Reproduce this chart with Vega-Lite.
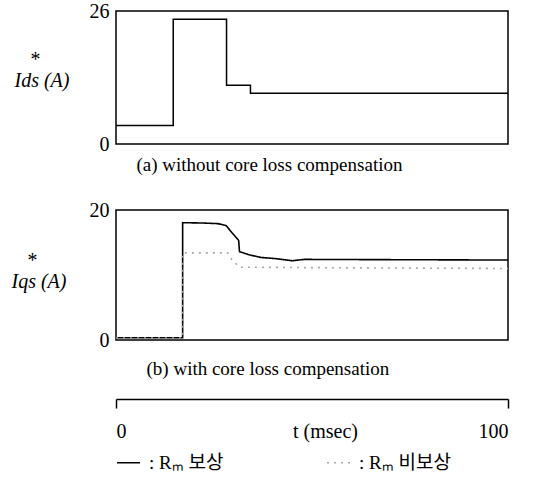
{
  "$schema": "https://vega.github.io/schema/vega-lite/v6.json",
  "background": "white",
  "padding": {"left": 10, "top": 0, "right": 5, "bottom": 5},
  "spacing": 16,
  "config": {
    "font": "Liberation Serif, serif",
    "view": {"stroke": "black", "strokeWidth": 1.5},
    "axis": {
      "labelFont": "Liberation Serif, serif",
      "titleFont": "Liberation Serif, serif",
      "labelColor": "black",
      "titleColor": "black",
      "grid": false,
      "domain": false,
      "ticks": false,
      "labelFontSize": 20,
      "titleFontWeight": "normal"
    }
  },
  "resolve": {"scale": {"x": "independent", "y": "independent", "color": "independent", "strokeDash": "independent"}},
  "vconcat": [
    {
      "spacing": 24,
      "resolve": {"scale": {"x": "independent", "y": "independent", "color": "independent", "strokeDash": "independent"}},
      "vconcat": [
        {
          "width": 392,
          "height": 133,
          "data": {"values": [
            {"i": 0, "t": 0, "v": 3.6},
            {"i": 1, "t": 14.6, "v": 3.6},
            {"i": 2, "t": 14.6, "v": 24.4},
            {"i": 3, "t": 28.2, "v": 24.4},
            {"i": 4, "t": 28.2, "v": 11.5},
            {"i": 5, "t": 34.3, "v": 11.5},
            {"i": 6, "t": 34.3, "v": 9.9},
            {"i": 7, "t": 100, "v": 9.9}
          ]},
          "mark": {"type": "line", "color": "black", "strokeWidth": 1.5},
          "encoding": {
            "x": {"field": "t", "type": "quantitative", "scale": {"domain": [0, 100], "nice": false},
              "axis": {"labels": false, "title": "(a) without core loss compensation", "titleFontSize": 19,
                "titleX": 20, "titleY": 20, "titleAlign": "left", "titleBaseline": "middle"}},
            "y": {"field": "v", "type": "quantitative", "scale": {"domain": [0, 26], "nice": false},
              "axis": {"values": [0, 26], "labelPadding": 7, "title": ["\u2800*", "Ids (A)"], "titleAngle": 0,
                "titleFontStyle": "italic", "titleFontSize": 20, "titleAlign": "left", "titleBaseline": "middle",
                "titleX": -102, "titleY": 48, "titleLineHeight": 21}},
            "order": {"field": "i", "type": "quantitative"}
          }
        },
        {
          "width": 392,
          "height": 130,
          "data": {"values": [
            {"s": "Rₘ 보상", "i": 0, "t": 0, "v": 0.35},
            {"s": "Rₘ 보상", "i": 1, "t": 17.0, "v": 0.35},
            {"s": "Rₘ 보상", "i": 2, "t": 17.0, "v": 18.05},
            {"s": "Rₘ 보상", "i": 3, "t": 22, "v": 18.0},
            {"s": "Rₘ 보상", "i": 4, "t": 26, "v": 17.9},
            {"s": "Rₘ 보상", "i": 5, "t": 28.1, "v": 17.6},
            {"s": "Rₘ 보상", "i": 6, "t": 29.6, "v": 16.5},
            {"s": "Rₘ 보상", "i": 7, "t": 30.9, "v": 15.6},
            {"s": "Rₘ 보상", "i": 8, "t": 31.3, "v": 15.3},
            {"s": "Rₘ 보상", "i": 9, "t": 31.5, "v": 13.6},
            {"s": "Rₘ 보상", "i": 10, "t": 34, "v": 13.1},
            {"s": "Rₘ 보상", "i": 11, "t": 37, "v": 12.7},
            {"s": "Rₘ 보상", "i": 12, "t": 41, "v": 12.5},
            {"s": "Rₘ 보상", "i": 13, "t": 45, "v": 12.2},
            {"s": "Rₘ 보상", "i": 14, "t": 48, "v": 12.4},
            {"s": "Rₘ 보상", "i": 15, "t": 100, "v": 12.3},
            {"s": "Rₘ 비보상", "i": 0, "t": 0, "v": 0.3},
            {"s": "Rₘ 비보상", "i": 1, "t": 17.0, "v": 0.3},
            {"s": "Rₘ 비보상", "i": 2, "t": 17.0, "v": 13.4},
            {"s": "Rₘ 비보상", "i": 3, "t": 28.5, "v": 13.4},
            {"s": "Rₘ 비보상", "i": 4, "t": 29.5, "v": 12.4},
            {"s": "Rₘ 비보상", "i": 5, "t": 31.5, "v": 11.2},
            {"s": "Rₘ 비보상", "i": 6, "t": 60, "v": 11.1},
            {"s": "Rₘ 비보상", "i": 7, "t": 100, "v": 11.0}
          ]},
          "mark": {"type": "line", "strokeWidth": 1.6},
          "encoding": {
            "x": {"field": "t", "type": "quantitative", "scale": {"domain": [0, 100], "nice": false},
              "axis": {"labels": false, "title": "(b) with core loss compensation", "titleFontSize": 19,
                "titleX": 30, "titleY": 28, "titleAlign": "left", "titleBaseline": "middle"}},
            "y": {"field": "v", "type": "quantitative", "scale": {"domain": [0, 20], "nice": false},
              "axis": {"values": [0, 20], "labelPadding": 7, "title": ["\u2800*", "Iqs (A)"], "titleAngle": 0,
                "titleFontStyle": "italic", "titleFontSize": 20, "titleAlign": "left", "titleBaseline": "middle",
                "titleX": -105, "titleY": 50, "titleLineHeight": 21}},
            "color": {"field": "s", "type": "nominal", "scale": {"domain": ["Rₘ 보상", "Rₘ 비보상"], "range": ["black", "#a8a8a8"]}, "legend": null},
            "strokeDash": {"field": "s", "type": "nominal", "scale": {"domain": ["Rₘ 보상", "Rₘ 비보상"], "range": [[1, 0], [2, 5]]}, "legend": null},
            "order": {"field": "i", "type": "quantitative"}
          }
        }
      ]
    },
    {
      "width": 392,
      "height": 1,
      "view": {"stroke": null},
      "data": {"values": [
        {"s": "Rₘ 보상", "t": 0},
        {"s": "Rₘ 비보상", "t": 100}
      ]},
      "mark": {"type": "line", "strokeWidth": 1.6},
      "encoding": {
        "x": {"field": "t", "type": "quantitative", "scale": {"domain": [0, 100], "nice": false},
          "axis": {"values": [0, 100], "domain": true, "domainColor": "black", "domainWidth": 1.5,
            "ticks": true, "tickSize": 9, "tickWidth": 1.5, "tickColor": "black",
            "labelFontSize": 20, "labelPadding": 13,
            "title": "t (msec)", "titleFontSize": 20, "titleX": 209, "titleY": 32,
            "titleAlign": "center", "titleBaseline": "middle"}},
        "color": {"field": "s", "type": "nominal", "scale": {"domain": ["Rₘ 보상", "Rₘ 비보상"], "range": ["black", "#a8a8a8"]},
          "legend": {"orient": "bottom", "direction": "horizontal", "title": null, "offset": 9,
            "labelExpr": "': ' + datum.label", "labelFont": "Liberation Serif, Noto Sans CJK KR, serif", "labelFontSize": 19, "labelColor": "black",
            "symbolType": "stroke", "symbolSize": 529, "symbolStrokeWidth": 1.5, "labelOffset": 8, "columnPadding": 100}},
        "strokeDash": {"field": "s", "type": "nominal", "scale": {"domain": ["Rₘ 보상", "Rₘ 비보상"], "range": [[1, 0], [2, 5]]},
          "legend": {"orient": "bottom", "direction": "horizontal", "title": null, "offset": 9,
            "labelExpr": "': ' + datum.label", "labelFont": "Liberation Serif, Noto Sans CJK KR, serif", "labelFontSize": 19, "labelColor": "black",
            "symbolType": "stroke", "symbolSize": 529, "symbolStrokeWidth": 1.5, "labelOffset": 8, "columnPadding": 100}}
      }
    }
  ]
}
